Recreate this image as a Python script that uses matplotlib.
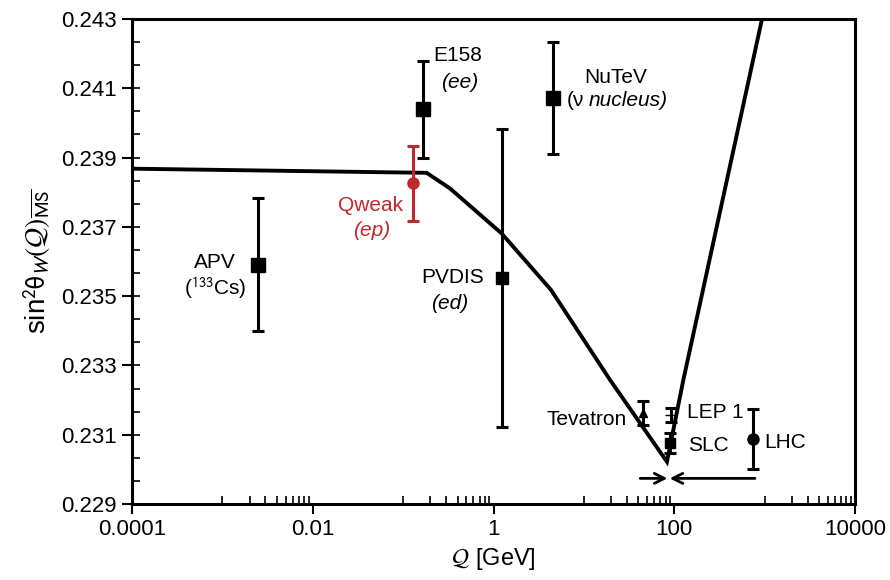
import numpy as np
import matplotlib
matplotlib.use("Agg")
from matplotlib import pyplot as plt
from matplotlib.ticker import FixedLocator, NullFormatter

plt.rcParams['font.family'] = ['Liberation Sans', 'DejaVu Sans']
plt.rcParams['mathtext.fontset'] = 'stixsans'

# running of the weak mixing angle
curve_q = [0.0001, 0.182, 0.33, 1.23, 4.33, 19.5, 83.0, 126.0, 935.0, 1000.0]
curve_s = [0.23868, 0.23856, 0.23811, 0.23681, 0.23518, 0.23258, 0.23022, 0.23258, 0.24300, 0.24360]

# measurements: Q, value, error
names = ['APV', 'E158', 'PVDIS', 'NuTeV', 'Tevatron', 'LEP 1', 'SLC', 'LHC']
q_vals = [0.00246, 0.167, 1.23, 4.52, 44.8, 92.0, 89.0, 738.0]
s_vals = [0.23590, 0.24040, 0.23552, 0.24071, 0.23163, 0.23157, 0.23076, 0.23087]
s_errs = [0.00192, 0.00140, 0.00430, 0.00162, 0.00035, 0.00020, 0.00030, 0.00087]
markers = ['s', 's', 's', 's', '^', '_', 's', 'o']
msizes = [10, 10, 8, 10, 6, 8, 7, 8]

qweak_q = 0.130
qweak_s = 0.23826
qweak_err = 0.00108

red = '#c1272d'

fig = plt.figure(figsize=(8.9, 5.8), dpi=100)
ax = fig.add_axes([0.1483, 0.1310, 0.8124, 0.8362])

ax.plot(curve_q, curve_s, color='black', lw=2.8, solid_joinstyle='miter', zorder=3)

for q, s, e, m, ms in zip(q_vals, s_vals, s_errs, markers, msizes):
    ax.errorbar(q, s, yerr=e, fmt=m, color='black', ms=ms, elinewidth=2.2,
                capsize=4.5, capthick=2.2, zorder=4)
ax.errorbar(qweak_q, qweak_s, yerr=qweak_err, fmt='o', color=red, ms=8,
            elinewidth=2.2, capsize=4.5, capthick=2.2, zorder=4)

# labels, offsets in pixels from the points
fs = 15
def lab(i, txt, dx, dy, ha='center', color='black', style='normal'):
    ax.annotate(txt, (q_vals[i], s_vals[i]), xytext=(dx, dy), textcoords='offset pixels',
                ha=ha, va='center', fontsize=fs, color=color, style=style)

lab(0, 'APV', -43, 2)
lab(0, r'($^{133}$Cs)', -42, -23)
lab(1, 'E158', 34, 54)
lab(1, '(ee)', 36, 27, style='italic')
lab(2, 'PVDIS', -49, 1)
lab(2, '(ed)', -52, -25, style='italic')
lab(3, 'NuTeV', 63, 21)
lab(3, '(ν', 31, -2, ha='right')
lab(3, 'nucleus)', 36, -2, ha='left', style='italic')
lab(4, 'Tevatron', -16, -7, ha='right')
lab(5, 'LEP 1', 16, 2, ha='left')
lab(6, 'SLC', 18, -2, ha='left')
lab(7, 'LHC', 12, -3, ha='left')
ax.annotate('Qweak', (qweak_q, qweak_s), xytext=(-43, -22), textcoords='offset pixels',
            ha='center', va='center', fontsize=fs, color=red)
ax.annotate('(ep)', (qweak_q, qweak_s), xytext=(-42, -47), textcoords='offset pixels',
            ha='center', va='center', fontsize=fs, color=red, style='italic')

# arrows under the Z pole
arrow_y = 0.22974
ax.annotate('', xy=(84, arrow_y), xytext=(42, arrow_y),
            arrowprops=dict(arrowstyle='->', lw=2, color='black', mutation_scale=18,
                            shrinkA=0, shrinkB=0))
ax.annotate('', xy=(89, arrow_y), xytext=(783, arrow_y),
            arrowprops=dict(arrowstyle='->', lw=2, color='black', mutation_scale=18,
                            shrinkA=0, shrinkB=0))

ax.set_xscale('log')
ax.set_xlim(1e-4, 1e4)
ax.set_ylim(0.229, 0.243)

xt = [1e-4, 1e-2, 1, 1e2, 1e4]
ax.xaxis.set_major_locator(FixedLocator(xt))
ax.set_xticklabels(['0.0001', '0.01', '1', '100', '10000'])
xminor = [b * k for b in [1e-3, 1e-1, 1e1, 1e3] for k in range(1, 10)]
ax.xaxis.set_minor_locator(FixedLocator(xminor))
ax.xaxis.set_minor_formatter(NullFormatter())

yt = np.arange(0.229, 0.2431, 0.002)
ax.set_yticks(yt)
ax.set_yticklabels(['%.3f' % v for v in yt])
ax.yaxis.set_minor_locator(FixedLocator(np.arange(0.229, 0.2431, 0.002 / 3)))
ax.yaxis.remove_overlapping_locs = False

ax.tick_params(which='major', direction='out', length=7, width=1.5, labelsize=16, pad=4)
ax.tick_params(which='minor', direction='in', length=6, width=1.2)
for sp in ax.spines.values():
    sp.set_linewidth(2.2)

ax.set_xlabel(r'$\mathcal{Q}$ [GeV]', fontsize=17, labelpad=4)
ax.set_ylabel(r'sin$^2\mathrm{\theta}_W(\mathcal{Q})_{\overline{\rm MS}}$', fontsize=20, labelpad=6)

fig.savefig('out.png', dpi=100)
